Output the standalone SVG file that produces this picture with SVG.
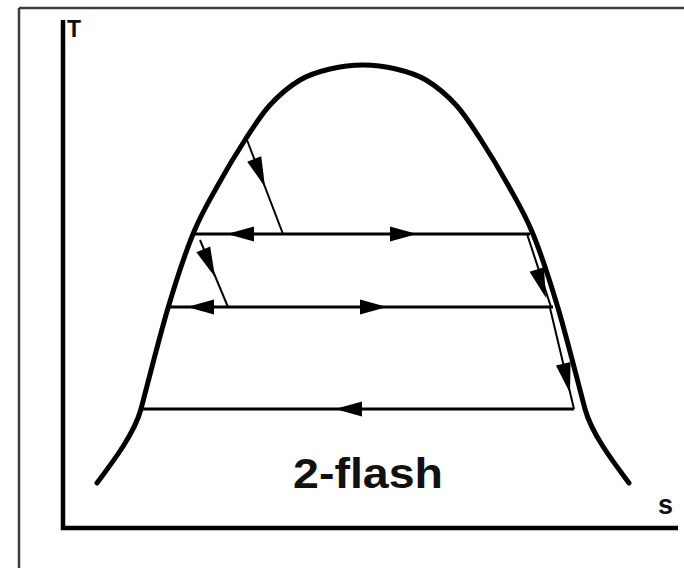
<svg xmlns="http://www.w3.org/2000/svg" xmlns:xlink="http://www.w3.org/1999/xlink" width="684" height="568" viewBox="0 0 684 568">
  <style>
    .frame { stroke: #3c3c3c; stroke-width: 2.5; fill: none; }
    .axis { stroke: #000; stroke-width: 4.5; fill: none; }
    .dome { stroke: #000; stroke-width: 5; fill: none; stroke-linecap: round; }
    .hline { stroke: #000; stroke-width: 3; fill: none; }
    .diag { stroke: #000; stroke-width: 2; fill: none; }
    .ah { fill: #000; }
    .lbl { font-family: "Liberation Sans", Arial, sans-serif; font-weight: bold; fill: #111; }
  </style>
  <defs>
    <path id="ahH" d="M0,0 L-27,-7.5 L-27,7.5 Z"/>
    <path id="ahD" d="M0,0 L-30,-7.5 L-30,7.5 Z"/>
  </defs>
  <rect width="684" height="568" fill="#fff"/>
  <g id="frame">
    <line class="frame" x1="19" y1="8" x2="684" y2="8"/>
    <line class="frame" x1="19" y1="8" x2="19" y2="568"/>
  </g>
  <g id="axes">
    <polyline class="axis" points="63,20 63,528 678,528"/>
    <text class="lbl" x="67" y="37" font-size="23">T</text>
    <text class="lbl" x="658" y="514" font-size="27">s</text>
  </g>
  <g id="dome">
    <path class="dome" d="M97,483 C112,463 134.3,434 141,409 C147.2,385.8 159.3,337.2 168,308 C176.7,278.8 184.7,254.5 193,234 C201.3,213.5 209.3,200.7 218,185 C226.7,169.3 236.3,153.3 245,140 C253.7,126.7 260.8,115 270,105 C279.2,95 290,86 300,80 C310,74 319.5,71.5 330,69 C340.5,66.5 352,65 363,65 C374,65 385.5,66.5 396,69 C406.5,71.5 416,74 426,80 C436,86 446.8,95 456,105 C465.2,115 472.3,126.7 481,140 C489.7,153.3 499.3,169.3 508,185 C516.7,200.7 524.7,213.5 533,234 C541.3,254.5 549.3,278.8 558,308 C566.7,337.2 578.8,385.8 585,409 C591.7,434 614,463 629,483"/>
  </g>
  <g id="connectors">
    <line class="hline" x1="195" y1="234" x2="530" y2="234"/>
    <line class="hline" x1="170" y1="307" x2="553" y2="307"/>
    <line class="hline" x1="143" y1="409" x2="574" y2="409"/>
    <line class="diag" x1="247" y1="140" x2="283" y2="234"/>
    <line class="diag" x1="200" y1="240" x2="228" y2="307"/>
    <line class="diag" x1="527" y1="234" x2="551" y2="307"/>
    <line class="diag" x1="550" y1="308" x2="574" y2="409"/>
    <use class="ah" xlink:href="#ahH" transform="translate(227,234) rotate(180)"/>
    <use class="ah" xlink:href="#ahH" transform="translate(417,234)"/>
    <use class="ah" xlink:href="#ahH" transform="translate(187,307) rotate(180)"/>
    <use class="ah" xlink:href="#ahH" transform="translate(387,307)"/>
    <use class="ah" xlink:href="#ahH" transform="translate(335,409) rotate(180)"/>
    <use class="ah" xlink:href="#ahD" transform="translate(265,187) rotate(69)"/>
    <use class="ah" xlink:href="#ahD" transform="translate(215,277) rotate(67)"/>
    <use class="ah" xlink:href="#ahD" transform="translate(546,298) rotate(72)"/>
    <use class="ah" xlink:href="#ahD" transform="translate(570,393) rotate(77)"/>
  </g>
  <g id="title">
    <text class="lbl" x="293" y="488" font-size="42" textLength="150" lengthAdjust="spacingAndGlyphs">2-flash</text>
  </g>
</svg>
